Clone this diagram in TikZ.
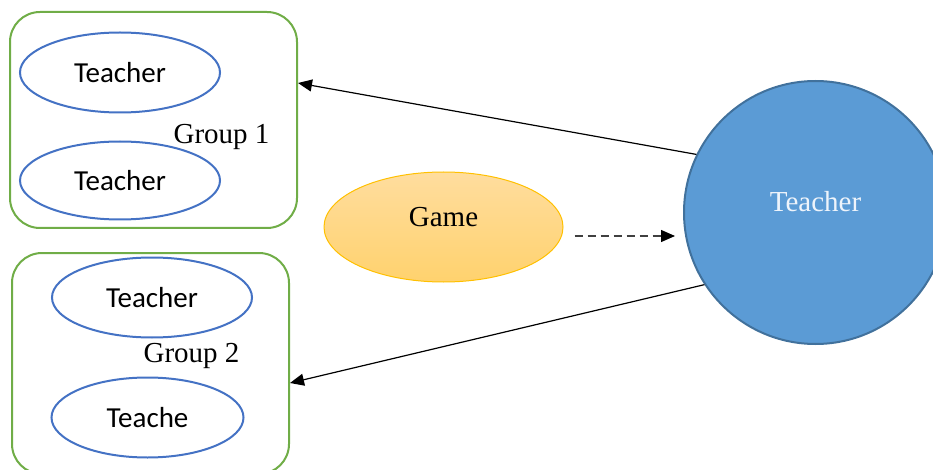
\documentclass[tikz,border=0pt]{standalone}
\usepackage{fontspec}
\setmainfont{Liberation Serif}
\newfontfamily\memberfont{Carlito}
\usepackage{tikz}
\usetikzlibrary{shapes,arrows.meta,positioning}
\definecolor{grpgreen}{HTML}{70AD47}
\definecolor{memblue}{HTML}{4472C4}
\definecolor{gameedge}{HTML}{FFC000}
\definecolor{gametop}{HTML}{FFDD9E}
\definecolor{gamebot}{HTML}{FFD26E}
\definecolor{hubblue}{HTML}{5B9BD5}
\definecolor{hubedge}{HTML}{41719C}
\definecolor{hubtext}{HTML}{EEF4FB}
\definecolor{dashgray}{HTML}{404040}
\tikzstyle{group} = [rectangle, draw=grpgreen, line width=2pt, rounded corners=30pt, minimum height=216pt]
\tikzstyle{member} = [ellipse, draw=memblue, line width=2pt, inner sep=0pt, minimum width=200pt, minimum height=80pt, font=\memberfont\fontsize{29}{34}\selectfont]
\tikzstyle{grouplabel} = [inner sep=0pt, font=\fontsize{29}{34}\selectfont]
\tikzstyle{game} = [ellipse, draw=gameedge, line width=1pt, top color=gametop, bottom color=gamebot, minimum width=239pt, minimum height=110pt]
\tikzstyle{hub} = [circle, draw=hubedge, fill=hubblue, line width=2pt, minimum size=263pt]
\tikzstyle{link} = [line width=1.2pt, -{Triangle[length=14pt,width=12pt,color=black]}]

\begin{document}
\begin{tikzpicture}[x=1pt, y=-1pt]
  \useasboundingbox (0,0) rectangle (933,470);
  % groups
  \node[group, minimum width=287pt] (group1) at (153.5,120) {};
  \node[group, minimum width=277pt, minimum height=221pt] (group2) at (150.5,363.5) {};
  \node[member] (t1) at (120,72.5) {Teacher};
  \node[member, minimum height=78pt] (t2) at (120,180.5) {Teacher};
  \node[member] (t3) at (152,297.5) {Teacher};
  \node[member, minimum width=192pt] (t4) at (147.5,417.5) {Teache};
  \node[grouplabel] (g1) at (221.5,136.5) {Group 1};
  \node[grouplabel] (g2) at (191.5,355.5) {Group 2};
  % game and teacher
  \node[game, label={[yshift=10pt, font=\fontsize{29}{34}\selectfont]center:Game}] (game) at (443.5,227) {};
  \node[hub, label={[yshift=10.5pt, text=hubtext, font=\fontsize{29}{34}\selectfont]center:Teacher}] (hub) at (815.5,212.5) {};
  \draw[link] (hub.154) -- ([yshift=37pt]group1.east);
  \draw[link] (hub.213) -- ([yshift=-19.5pt]group2.east);
  \coordinate (dashfrom) at ([yshift=-9pt]game.east);
  \draw[link, dashgray, dash pattern=on 8pt off 5pt, shorten <=11pt, shorten >=8pt] (dashfrom) -- (dashfrom -| hub.west);
\end{tikzpicture}
\end{document}
